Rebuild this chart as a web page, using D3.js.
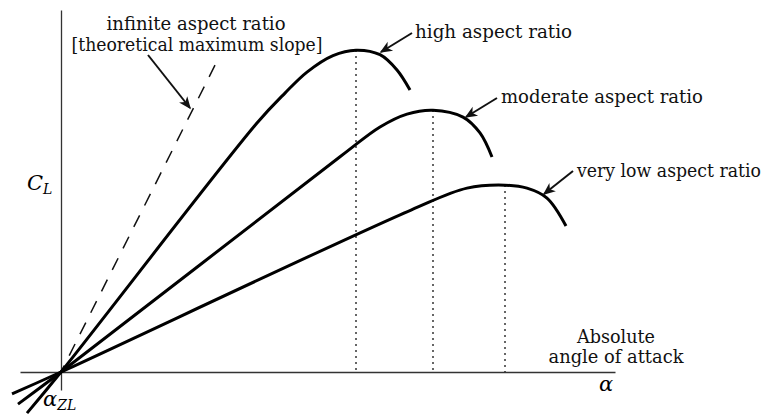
<!DOCTYPE html>
<html>
<head>
<meta charset="utf-8">
<script src="https://cdn.jsdelivr.net/npm/d3@7"></script>
<style>
    body { margin: 0; background: #fff; }
</style>
</head>
<body>
<div id="chart"></div>
<script>
const serif = "'DejaVu Serif', 'Liberation Serif', 'Times New Roman', Times, serif";

// Axis extents (alpha in degrees, CL arbitrary units)
const alphaExtent = [-2.05, 27.7];
const clExtent = [-0.06, 1.207];

// Lift curves
const highAlpha = [-1.7, 0, 9.8, 11.2, 12.3, 13.6, 14.75, 15.95, 16.8, 17.45];
const highCL = [-0.137, 0, 0.83, 0.93, 1.0, 1.055, 1.073, 1.058, 1.007, 0.94];

const modAlpha = [-2.15, 0, 14.0, 15.95, 17.3, 18.6, 20.1, 20.95, 21.55];
const modCL = [-0.107, 0, 0.72, 0.817, 0.86, 0.873, 0.85, 0.797, 0.717];

const lowAlpha = [-2.45, 0, 17.5, 20.3, 22.2, 23.3, 24.3, 25.25];
const lowCL = [-0.073, 0, 0.54, 0.613, 0.623, 0.613, 0.58, 0.487];

// infinite aspect ratio (theoretical slope), dashed
const infAlpha = [7.7, 0];
const infCL = [1.023, 0];

function init() {
    const width = 771;
    const height = 416;

    const svg = d3.select("#chart").append("svg")
        .attr("width", width)
        .attr("height", height);

    const x = d3.scaleLinear().domain(alphaExtent).range([20, 615]);
    const y = d3.scaleLinear().domain(clExtent).range([390, 10]);

    // arrow head, LaTeX style
    svg.append("defs").append("marker")
        .attr("id", "head")
        .attr("viewBox", "-13 -6 15 12")
        .attr("refX", 0)
        .attr("refY", 0)
        .attr("markerUnits", "userSpaceOnUse")
        .attr("markerWidth", 15)
        .attr("markerHeight", 12)
        .attr("orient", "auto")
        .append("path")
        .attr("d", "M1.5,0 L-11,-5.2 L-7.5,0 L-11,5.2 Z")
        .attr("fill", "#111");

    // axes, no ticks
    svg.append("g")
        .attr("transform", "translate(0," + y(0) + ")")
        .call(d3.axisBottom(x).tickValues([]).tickSizeOuter(0))
        .select(".domain")
        .attr("stroke", "#333")
        .attr("stroke-width", 1.3);

    svg.append("g")
        .attr("transform", "translate(" + x(0) + ",0)")
        .call(d3.axisLeft(y).tickValues([]).tickSizeOuter(0))
        .select(".domain")
        .attr("stroke", "#333")
        .attr("stroke-width", 1.3);

    const line = d3.line()
        .x(d => x(d[0]))
        .y(d => y(d[1]))
        .curve(d3.curveCatmullRom.alpha(0.5));

    const curves = [
        [highAlpha, highCL],
        [modAlpha, modCL],
        [lowAlpha, lowCL]
    ];

    // dotted lines at the stall angle
    curves.forEach(function(c) {
        const i = d3.maxIndex(c[1]);
        const xs = Math.round(x(c[0][i]));
        svg.append("line")
            .attr("x1", xs)
            .attr("x2", xs)
            .attr("y1", y(c[1][i]))
            .attr("y2", y(0))
            .attr("stroke", "#000")
            .attr("stroke-width", 1.6)
            .attr("stroke-dasharray", "1.6,4.4");
    });

    svg.append("path")
        .datum(d3.zip(infAlpha, infCL))
        .attr("d", d3.line().x(d => x(d[0])).y(d => y(d[1])))
        .attr("fill", "none")
        .attr("stroke", "#111")
        .attr("stroke-width", 1.5)
        .attr("stroke-dasharray", "13,11");

    svg.selectAll(".curve")
        .data(curves.map(c => d3.zip(c[0], c[1])))
        .join("path")
        .attr("class", "curve")
        .attr("d", line)
        .attr("fill", "none")
        .attr("stroke", "#000")
        .attr("stroke-width", 3)
        .attr("stroke-linejoin", "round");

    // annotation arrows
    const arrows = [
        [148, 55, 190, 108],
        [412, 33, 381, 52],
        [497, 98, 466, 117],
        [573, 171, 544, 194]
    ];
    svg.selectAll(".arrow")
        .data(arrows)
        .join("line")
        .attr("class", "arrow")
        .attr("x1", d => d[0])
        .attr("y1", d => d[1])
        .attr("x2", d => d[2])
        .attr("y2", d => d[3])
        .attr("stroke", "#111")
        .attr("stroke-width", 2)
        .attr("marker-end", "url(#head)");

    // labels: text, x, y, anchor, width
    const labels = [
        ["infinite aspect ratio", 196, 30, "middle", 179],
        ["[theoretical maximum slope]", 197, 51, "middle", 251],
        ["high aspect ratio", 415, 38, "start", 157],
        ["moderate aspect ratio", 501, 103, "start", 202],
        ["very low aspect ratio", 577, 177, "start", 184],
        ["Absolute", 616, 343, "middle", 78],
        ["angle of attack", 616, 363, "middle", 135]
    ];
    svg.selectAll(".label")
        .data(labels)
        .join("text")
        .attr("class", "label")
        .attr("x", d => d[1])
        .attr("y", d => d[2])
        .attr("text-anchor", d => d[3])
        .attr("textLength", d => d[4])
        .attr("lengthAdjust", "spacingAndGlyphs")
        .style("font-family", serif)
        .style("font-size", "18px")
        .style("fill", "#111")
        .text(d => d[0]);

    // math labels
    const cl = svg.append("text")
        .attr("x", 27)
        .attr("y", 190)
        .style("font-family", serif)
        .style("font-size", "21px")
        .style("font-style", "italic");
    cl.append("tspan").text("C");
    cl.append("tspan").attr("dy", 4).style("font-size", "14px").text("L");

    svg.append("text")
        .attr("x", 606)
        .attr("y", 391)
        .attr("text-anchor", "middle")
        .style("font-family", serif)
        .style("font-size", "21px")
        .style("font-style", "italic")
        .text("α");

    const azl = svg.append("text")
        .attr("x", 43)
        .attr("y", 406)
        .style("font-family", serif)
        .style("font-size", "21px")
        .style("font-style", "italic");
    azl.append("tspan").text("α");
    azl.append("tspan").attr("dy", 4).style("font-size", "14px").text("ZL");
}

window.addEventListener('load', init);
</script>
</body>
</html>
